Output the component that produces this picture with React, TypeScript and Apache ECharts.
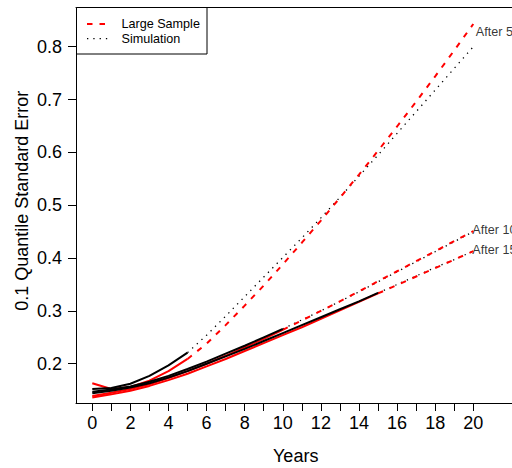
import React, { useEffect, useRef } from "react";
import * as echarts from "echarts";

// ---- data ----
const xTicks = [0, 1, 2, 3, 4, 5, 6, 7, 8, 9, 10, 11, 12, 13, 14, 15, 16, 17, 18, 19, 20];
const xLabels = [0, 2, 4, 6, 8, 10, 12, 14, 16, 18, 20];
const yTicks = [0.2, 0.3, 0.4, 0.5, 0.6, 0.7, 0.8];

const yearsA = [0, 1, 2, 3, 4, 5];
const simA = [0.152, 0.154, 0.162, 0.177, 0.197, 0.221];
const lsA = [0.163, 0.152, 0.156, 0.168, 0.186, 0.209];
const yearsAExt = [5, 6, 7, 8, 9, 10, 11, 12, 13, 14, 15, 16, 17, 18, 19, 20];
const simAExt = [0.221, 0.254, 0.29, 0.327, 0.364, 0.401, 0.438, 0.476, 0.515, 0.555, 0.595, 0.636, 0.677, 0.718, 0.759, 0.8];
const lsAExt = [0.209, 0.238, 0.273, 0.31, 0.348, 0.388, 0.429, 0.471, 0.514, 0.558, 0.603, 0.649, 0.696, 0.744, 0.793, 0.843];

const yearsB = [0, 1, 2, 3, 4, 5, 6, 7, 8, 9, 10];
const simB = [0.147, 0.151, 0.157, 0.166, 0.177, 0.19, 0.204, 0.219, 0.234, 0.25, 0.266];
const lsB = [0.139, 0.145, 0.152, 0.161, 0.173, 0.186, 0.2, 0.215, 0.231, 0.247, 0.264];
const yearsBExt = [10, 11, 12, 13, 14, 15, 16, 17, 18, 19, 20];
const simBExt = [0.266, 0.283, 0.3, 0.318, 0.336, 0.355, 0.374, 0.393, 0.412, 0.431, 0.45];
const lsBExt = [0.264, 0.282, 0.3, 0.318, 0.337, 0.356, 0.375, 0.394, 0.413, 0.432, 0.451];

const yearsC = [0, 1, 2, 3, 4, 5, 6, 7, 8, 9, 10, 11, 12, 13, 14, 15];
const simC = [0.144, 0.149, 0.155, 0.163, 0.174, 0.186, 0.2, 0.214, 0.228, 0.243, 0.258, 0.273, 0.288, 0.303, 0.318, 0.334];
const lsC = [0.136, 0.142, 0.149, 0.158, 0.169, 0.181, 0.195, 0.209, 0.224, 0.239, 0.254, 0.269, 0.285, 0.301, 0.317, 0.333];
const yearsCExt = [15, 16, 17, 18, 19, 20];
const simCExt = [0.334, 0.35, 0.366, 0.382, 0.397, 0.413];
const lsCExt = [0.333, 0.349, 0.365, 0.381, 0.397, 0.413];

const labelTexts = ["After 5", "After 10", "After 15"];
const labelX = [20, 20, 20];
const labelY = [0.827, 0.4527, 0.415];

const legendNames = ["Large Sample", "Simulation"];

// ---- styles ----
const FONT = "'Liberation Sans', Arial, Helvetica, sans-serif";
const RED = "#FF0000";
const BLACK = "#000000";
const DASH = [5.5, 7];
const DOT = [1.3, 5];

function pairs(xs: number[], ys: number[]) {
  return xs.map((x, i) => [x, ys[i]]);
}

function lineSeries(xs: number[], ys: number[], color: string, type: any, width: number) {
  return {
    type: "line",
    xAxisIndex: 0,
    yAxisIndex: 0,
    data: pairs(xs, ys),
    symbol: "none",
    silent: true,
    lineStyle: { color, width, type, cap: "butt" },
  };
}

export default function App() {
  const ref = useRef<HTMLDivElement>(null);

  useEffect(() => {
    document.body.style.margin = "0";
    const chart = echarts.init(ref.current!, null, { renderer: "svg" });

    const gridLeft = 76;
    const gridTop = 7.5;
    const gridWidth = 436;
    const pxPerYear = 19.05;
    const xMin = -0.855;
    const xMax = xMin + gridWidth / pxPerYear;
    const yMin = 0.1247;
    const yMax = 0.8742;

    const labelOffsets = [[1.5, 0], [-2, 0], [-2, 0]];

    const option: any = {
      animation: false,
      backgroundColor: "#ffffff",
      textStyle: { fontFamily: FONT },
      grid: {
        left: gridLeft,
        top: gridTop,
        width: gridWidth,
        height: 396,
        show: false,
      },
      xAxis: [
        {
          type: "value",
          position: "bottom",
          min: xMin,
          max: xMax,
          splitLine: { show: false },
          axisLine: { show: true, onZero: false, lineStyle: { color: BLACK, width: 1 } },
          axisTick: {
            show: true,
            length: 7.5,
            customValues: xTicks,
            lineStyle: { color: BLACK, width: 1 },
          },
          axisLabel: {
            show: true,
            customValues: xLabels,
            margin: 10,
            color: BLACK,
            fontSize: 18,
            fontFamily: FONT,
          },
        },
        {
          type: "value",
          position: "top",
          min: xMin,
          max: xMax,
          splitLine: { show: false },
          axisLine: { show: true, onZero: false, lineStyle: { color: BLACK, width: 1 } },
          axisTick: { show: false },
          axisLabel: { show: false },
        },
      ],
      yAxis: {
        type: "value",
        min: yMin,
        max: yMax,
        splitLine: { show: false },
        axisLine: { show: true, onZero: false, lineStyle: { color: BLACK, width: 1 } },
        axisTick: {
          show: true,
          length: 8,
          customValues: yTicks,
          lineStyle: { color: BLACK, width: 1 },
        },
        axisLabel: {
          show: true,
          customValues: yTicks,
          margin: 14,
          color: BLACK,
          fontSize: 18,
          fontFamily: FONT,
          formatter: (v: number) => v.toFixed(1),
        },
      },
      series: [
        lineSeries(yearsAExt, simAExt, BLACK, DOT, 1.3),
        lineSeries(yearsAExt, lsAExt, RED, DASH, 2),
        lineSeries(yearsBExt, simBExt, BLACK, DOT, 1.3),
        lineSeries(yearsBExt, lsBExt, RED, DASH, 2),
        lineSeries(yearsCExt, simCExt, BLACK, DOT, 1.3),
        lineSeries(yearsCExt, lsCExt, RED, DASH, 2),
        lineSeries(yearsC, lsC, RED, "solid", 2),
        lineSeries(yearsB, lsB, RED, "solid", 2),
        lineSeries(yearsA, lsA, RED, "solid", 2),
        lineSeries(yearsC, simC, BLACK, "solid", 2),
        lineSeries(yearsB, simB, BLACK, "solid", 2),
        lineSeries(yearsA, simA, BLACK, "solid", 2),
        {
          type: "scatter",
          xAxisIndex: 0,
          yAxisIndex: 0,
          silent: true,
          symbolSize: 0,
          data: labelTexts.map((t, i) => ({
            name: t,
            value: [labelX[i], labelY[i]],
            label: { offset: labelOffsets[i] },
          })),
          label: {
            show: true,
            position: "right",
            distance: 1,
            color: BLACK,
            fontSize: 12.6,
            fontFamily: FONT,
            formatter: (p: any) => p.name,
          },
        },
      ],
      graphic: [
        {
          type: "rect",
          z: 100,
          shape: { x: 76.5, y: 7.5, width: 130.5, height: 46.5 },
          style: { fill: "#ffffff", stroke: BLACK, lineWidth: 1 },
        },
        {
          type: "line",
          z: 101,
          shape: { x1: 87, y1: 24, x2: 106, y2: 24 },
          style: { stroke: RED, lineWidth: 2, lineDash: DASH },
        },
        {
          type: "line",
          z: 101,
          shape: { x1: 87, y1: 38.7, x2: 108, y2: 38.7 },
          style: { stroke: BLACK, lineWidth: 1.3, lineDash: DOT },
        },
        {
          type: "text",
          z: 101,
          x: 121.5,
          y: 24,
          style: {
            text: legendNames[0],
            fill: BLACK,
            font: `12.6px ${FONT}`,
            textAlign: "left",
            textVerticalAlign: "middle",
          },
        },
        {
          type: "text",
          z: 101,
          x: 121.5,
          y: 38.7,
          style: {
            text: legendNames[1],
            fill: BLACK,
            font: `12.6px ${FONT}`,
            textAlign: "left",
            textVerticalAlign: "middle",
          },
        },
        {
          type: "text",
          x: 295.7,
          y: 456,
          style: {
            text: "Years",
            fill: BLACK,
            font: `18px ${FONT}`,
            textAlign: "center",
            textVerticalAlign: "middle",
          },
        },
        {
          type: "text",
          x: 22,
          y: 200.7,
          rotation: Math.PI / 2,
          style: {
            text: "0.1 Quantile Standard Error",
            fill: BLACK,
            font: `18px ${FONT}`,
            textAlign: "center",
            textVerticalAlign: "middle",
          },
        },
      ],
    };

    chart.setOption(option);
    return () => chart.dispose();
  }, []);

  return <div ref={ref} style={{ width: 512, height: 468 }} />;
}
